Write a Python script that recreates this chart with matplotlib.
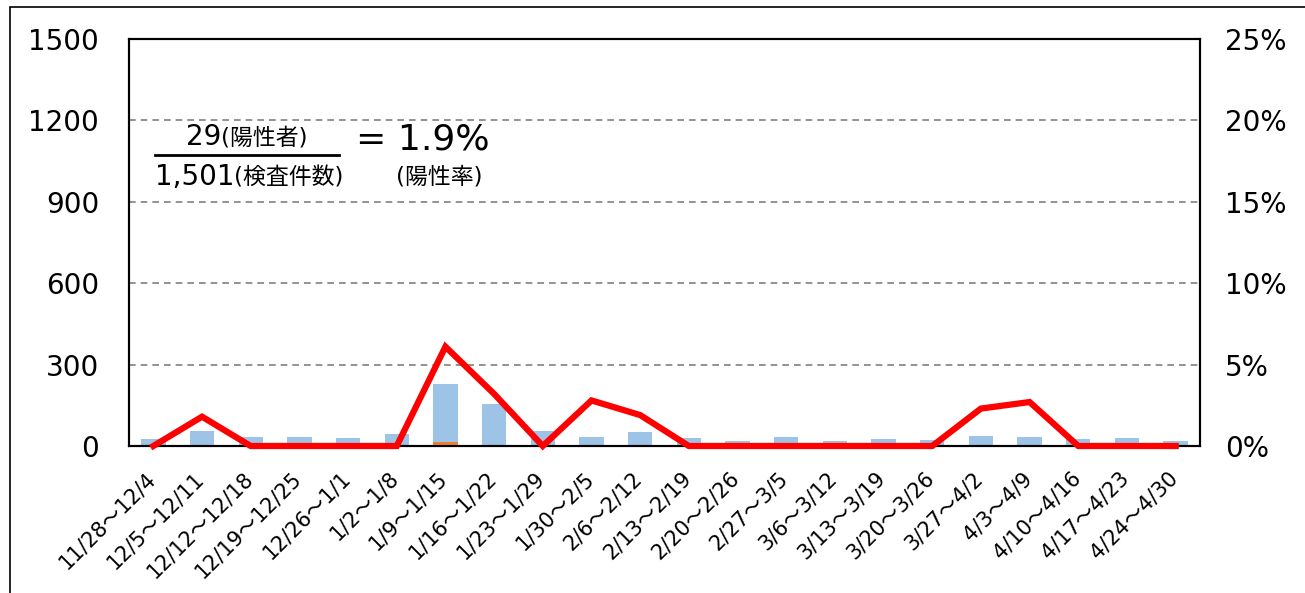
import matplotlib.pyplot as plt
from matplotlib.patches import Rectangle
from matplotlib.transforms import ScaledTranslation
import numpy as np

plt.rcParams['font.family'] = ['DejaVu Sans', 'Noto Sans CJK JP']

# Data
weeks = ["11/28～12/4", "12/5～12/11", "12/12～12/18", "12/19～12/25", "12/26～1/1",
         "1/2～1/8", "1/9～1/15", "1/16～1/22", "1/23～1/29", "1/30～2/5", "2/6～2/12",
         "2/13～2/19", "2/20～2/26", "2/27～3/5", "3/6～3/12", "3/13～3/19", "3/20～3/26",
         "3/27～4/2", "4/3～4/9", "4/10～4/16", "4/17～4/23", "4/24～4/30"]
tests = [27, 56, 34, 34, 29, 44, 228, 155, 56, 32, 50, 28, 19, 32, 18, 25, 21, 38, 32, 24, 28, 19]
positives = [0, 1, 0, 0, 0, 0, 14, 5, 0, 1, 1, 0, 0, 0, 0, 0, 0, 1, 1, 0, 0, 0]
rate = [0, 1.8, 0, 0, 0, 0, 6.1, 3.2, 0, 2.8, 1.9, 0, 0, 0, 0, 0, 0, 2.3, 2.7, 0, 0, 0]

W, H = 1305, 593
fig = plt.figure(figsize=(W / 100, H / 100), dpi=100)
ax = fig.add_axes([129 / W, 1 - 446 / H, (1200 - 129) / W, (446 - 39) / H])
ax2 = ax.twinx()

x = np.arange(len(weeks))
ax.bar(x, tests, width=0.5, color="#9DC3E6", zorder=2)
ax.bar(x, positives, width=0.5, color="#ED7D31", zorder=3)
ax.set_xlim(-0.5, len(weeks) - 0.5)
ax.set_ylim(0, 1500)
ax.set_yticks(range(0, 1501, 300))
ax.yaxis.grid(True, linestyle=(0, (4, 3)), color="#808080", linewidth=1.2, zorder=1)
ax.set_axisbelow(True)

ax2.plot(x, rate, color="#FF0000", linewidth=4.5, zorder=5, clip_on=False, solid_joinstyle="miter")
ax2.set_ylim(0, 25)
ax2.set_yticks(range(0, 26, 5))
ax2.set_yticklabels([f"{v}%" for v in range(0, 26, 5)])

for a in (ax, ax2):
    for s in a.spines.values():
        s.set_linewidth(1.5)
        s.set_color("black")
ax.tick_params(axis="y", length=0, labelsize=20, pad=21.5)
ax2.tick_params(axis="y", length=0, labelsize=20, pad=18)
ax.tick_params(axis="x", length=0, pad=0)

ax.set_xticks(x)
ax.set_xticklabels(weeks, rotation=45, ha="right", va="top", fontsize=15)
off = ScaledTranslation(6 / 100, -22 / 100, fig.dpi_scale_trans)
for lbl in ax.get_xticklabels():
    lbl.set_transform(lbl.get_transform() + off)

# Annotation: fraction
def px(xp, yp):
    return xp / W, 1 - yp / H

fig.text(*px(221, 137), "29", ha="right", va="center", fontsize=20)
fig.text(*px(221, 138), "(陽性者)", ha="left", va="center", fontsize=16.5)
fig.add_artist(plt.Line2D([155 / W, 339 / W], [1 - 154.5 / H, 1 - 154.5 / H], color="black", linewidth=2))
fig.text(*px(234, 177), "1,501", ha="right", va="center", fontsize=20)
fig.text(*px(234, 178), "(検査件数)", ha="left", va="center", fontsize=16.5)
fig.text(*px(356, 139), "= 1.9%", ha="left", va="center", fontsize=26)
fig.text(*px(439, 177), "(陽性率)", ha="center", va="center", fontsize=16.5)

# Outer frame
fig.add_artist(Rectangle((10 / W, -0.1), 1.2, 1 - 7 / H + 0.1, transform=fig.transFigure,
                         fill=False, edgecolor="black", linewidth=1.2))

fig.savefig("out.png", dpi=100)
